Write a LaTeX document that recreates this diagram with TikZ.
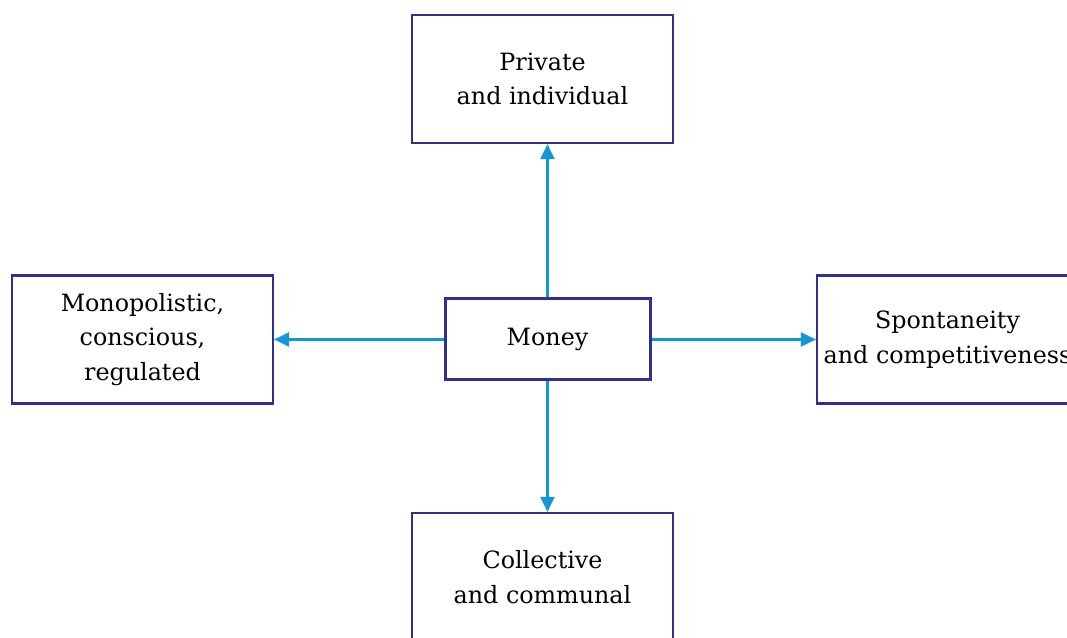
\documentclass[tikz,border=0pt]{standalone}
\usepackage{fontspec}
\setmainfont{DejaVu Serif}
\usetikzlibrary{arrows.meta}
\definecolor{boxblue}{RGB}{46,49,146}
\definecolor{arrowblue}{RGB}{20,150,220}
\begin{document}
\begin{tikzpicture}[x=1pt,y=1pt,
  box/.style={draw=boxblue,line width=2.2pt,fill=white,inner sep=0pt,
    minimum width=261pt,minimum height=128pt,align=center,
    font=\fontsize{23.8}{34.5}\selectfont},
  centerbox/.style={box,line width=3pt,minimum width=205pt,minimum height=81pt},
  conn/.style={arrowblue,line width=2.2pt,-{Triangle[length=15pt,width=14pt]}}]
\useasboundingbox (0,0) rectangle (1067,637);
\node[box] (top) at (542.5,558) {Private\\and individual};
\node[box] (left) at (142.5,297.5) {Monopolistic,\\conscious,\\regulated};
\node[box] (right) at (947.5,297.5) {Spontaneity\\and competitiveness};
\node[box] (bottom) at (542.5,60) {Collective\\and communal};
\node[centerbox] (money) at (547.5,297.5) {Money};
\draw[conn] (money.north) -- (money.north |- top.south);
\draw[conn] (money.south) -- (money.south |- bottom.north);
\draw[conn] (money.west) -- (left.east);
\draw[conn] (money.east) -- (right.west);
\end{tikzpicture}
\end{document}
